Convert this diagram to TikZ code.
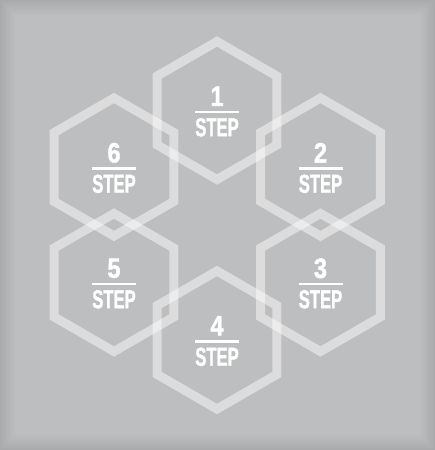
\documentclass[tikz,border=0pt]{standalone}
\usepackage{fontspec}
\setmainfont{Liberation Sans}
\newfontfamily\heavyfont[FakeBold=1.6]{Liberation Sans Bold}
\usetikzlibrary{calc}
\definecolor{bggray}{HTML}{BDBEC0}
\tikzset{
  hexline/.style={draw=white, draw opacity=0.47, line width=9pt, line join=miter},
  numtext/.style={text=white, inner sep=0pt, font=\heavyfont\fontsize{28}{30}\selectfont},
  steptext/.style={text=white, inner sep=0pt, font=\heavyfont\fontsize{26}{28}\selectfont},
  barline/.style={draw=white, line width=2.8pt}
}
\newcommand{\hexat}[1]{\path[hexline] (#1) ++(90:69) -- ++(-30:69) -- ++(-90:69) -- ++(-150:69) -- ++(150:69) -- ++(90:69) -- cycle;}
\newcommand{\steplabel}[2]{%
  \node[numtext] (n#1) at ($(#2)+(0,14.2)$) {\scalebox{0.84}[1]{#1}};
  \node[steptext] (s#1) at ($(#2)+(0,-16.8)$) {\scalebox{0.64}[1]{STEP}};
  \coordinate (bl#1) at ($(#2)+(-22,-1.5)$);
  \coordinate (br#1) at ($(#2)+(22,-1.5)$);
  \draw[barline] (bl#1) -- (br#1);
}
\begin{document}
\begin{tikzpicture}[x=1pt,y=1pt]
\useasboundingbox (0,0) rectangle (435,450);
\fill[bggray] (0,0) rectangle (435,450);
\foreach \i in {0,...,14}{
  \pgfmathsetmacro{\op}{0.1*(15-\i)/15}
  \draw[black, draw opacity=\op, line width=1pt] (\i+0.5,\i+0.5) rectangle (434.5-\i,449.5-\i);
}
\coordinate (c1) at (217,339.5);
\coordinate (c2) at (320.5,283);
\coordinate (c3) at (320.5,167.5);
\coordinate (c4) at (217,110);
\coordinate (c5) at (114,167.5);
\coordinate (c6) at (114,283);
\hexat{c1}
\hexat{c2}
\hexat{c3}
\hexat{c4}
\hexat{c5}
\hexat{c6}
\steplabel{1}{c1}
\steplabel{2}{c2}
\steplabel{3}{c3}
\steplabel{4}{c4}
\steplabel{5}{c5}
\steplabel{6}{c6}
\end{tikzpicture}
\end{document}
